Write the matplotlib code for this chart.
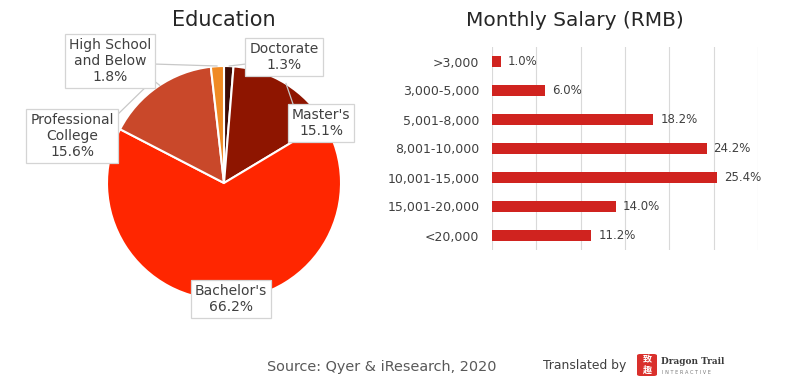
import matplotlib
matplotlib.use("Agg")
import matplotlib.pyplot as plt
from matplotlib.patches import FancyBboxPatch

plt.rcParams['font.family'] = ['DejaVu Sans', 'Noto Sans CJK SC']

# ---------------- data ----------------
edu_labels = ["Doctorate", "Master's", "Bachelor's", "Professional\nCollege", "High School\nand Below"]
edu_values = [1.3, 15.1, 66.2, 15.6, 1.8]
edu_colors = ["#3d0a05", "#8e1500", "#ff2600", "#c9482a", "#f08a24"]

sal_labels = [">3,000", "3,000-5,000", "5,001-8,000", "8,001-10,000",
              "10,001-15,000", "15,001-20,000", "<20,000"]
sal_values = [1.0, 6.0, 18.2, 24.2, 25.4, 14.0, 11.2]
bar_color = "#d0231f"

W, H = 800, 384
fig = plt.figure(figsize=(W / 100, H / 100), dpi=100)
fig.patch.set_facecolor("white")
txt = "#404040"

# ---------------- pie ----------------
cx, cy, R = 224, 183, 117
ax = fig.add_axes([0, 0, 400 / W, 1])
wedges, _ = ax.pie(edu_values, colors=edu_colors, startangle=90, counterclock=False,
                   radius=1, wedgeprops=dict(edgecolor="white", linewidth=1.5))
ax.set_aspect("auto")
ax.set_xlim(-cx / R, (400 - cx) / R)
ax.set_ylim(-(H - cy) / R, cy / R)
ax.axis("off")

def d(px, py):
    return ((px - cx) / R, (cy - py) / R)

label_pos = [d(284, 57), d(321, 123), d(231, 299), d(72, 136), d(110, 61)]
leaders = [
    [d(246, 64), (0.045, 1.0)],
    [d(293, 104), (0.53, 0.85)],
    None,
    [d(115, 117), d(153, 80), (-0.55, 0.835)],
    [d(153, 64), (-0.06, 1.0)],
]
for ln in leaders:
    if ln:
        xs = [p[0] for p in ln]
        ys = [p[1] for p in ln]
        ax.plot(xs, ys, color="#c8c8c8", lw=0.9, zorder=3, clip_on=False)

for lab, val, pos in zip(edu_labels, edu_values, label_pos):
    ax.text(pos[0], pos[1], f"{lab}\n{val:.1f}%", ha="center", va="center",
            fontsize=10, color=txt, linespacing=1.15, zorder=5,
            bbox=dict(boxstyle="square,pad=0.3", fc="white", ec="#d4d4d4", lw=0.9))

fig.text(cx / W, 1 - 20 / H, "Education", ha="center", va="center",
         fontsize=15, color="#262626")

# ---------------- bars ----------------
bx0, bx1 = 492, 758
by0, by1 = 47, 250
axb = fig.add_axes([bx0 / W, 1 - by1 / H, (bx1 - bx0) / W, (by1 - by0) / H])
ypos = list(range(len(sal_labels)))
axb.barh(ypos, sal_values, height=0.35, color=bar_color, zorder=3)
axb.set_xlim(0, 30)
axb.set_ylim(len(sal_labels) - 0.5, -0.5)
axb.set_xticks(range(0, 31, 5))
axb.xaxis.grid(True, color="#d9d9d9", lw=0.8)
axb.set_axisbelow(True)
axb.tick_params(axis="x", length=0, labelbottom=False)
axb.tick_params(axis="y", length=0, pad=9, labelsize=9, labelcolor=txt)
axb.set_yticks(ypos)
axb.set_yticklabels(sal_labels)
for s in axb.spines.values():
    s.set_visible(False)
for y, v in zip(ypos, sal_values):
    axb.annotate(f"{v:.1f}%", (v, y), xytext=(5, 0), textcoords="offset points",
                 ha="left", va="center", fontsize=8.5, color=txt)

fig.text(575 / W, 1 - 20 / H, "Monthly Salary (RMB)", ha="center", va="center",
         fontsize=14.5, color="#262626")

# ---------------- footer ----------------
fig.text(382 / W, 1 - 367 / H, "Source: Qyer & iResearch, 2020", ha="center", va="center",
         fontsize=10.4, color="#595959")
fig.text(585 / W, 1 - 365 / H, "Translated by", ha="center", va="center",
         fontsize=8.9, color=txt)
logo = FancyBboxPatch((637 / W, 1 - 376 / H), 20 / W, 22 / H,
                      boxstyle="round,pad=0,rounding_size=0.004",
                      transform=fig.transFigure, fc="#d9302c", ec="none")
fig.patches.append(logo)
fig.text(647 / W, 1 - 359.5 / H, "致", ha="center", va="center", fontsize=6.5,
         color="white", family=["Noto Sans CJK SC"], fontweight="bold")
fig.text(647 / W, 1 - 370.5 / H, "趣", ha="center", va="center", fontsize=6.5,
         color="white", family=["Noto Sans CJK SC"], fontweight="bold")
fig.text(661 / W, 1 - 361 / H, "Dragon Trail", ha="left", va="center", fontsize=6.4,
         color="#3a3a3a", family=["DejaVu Serif"], fontweight="bold")
fig.text(662 / W, 1 - 372.5 / H, "I N T E R A C T I V E", ha="left", va="center",
         fontsize=3.6, color="#777777")

fig.savefig("out.png", dpi=100, facecolor="white")
